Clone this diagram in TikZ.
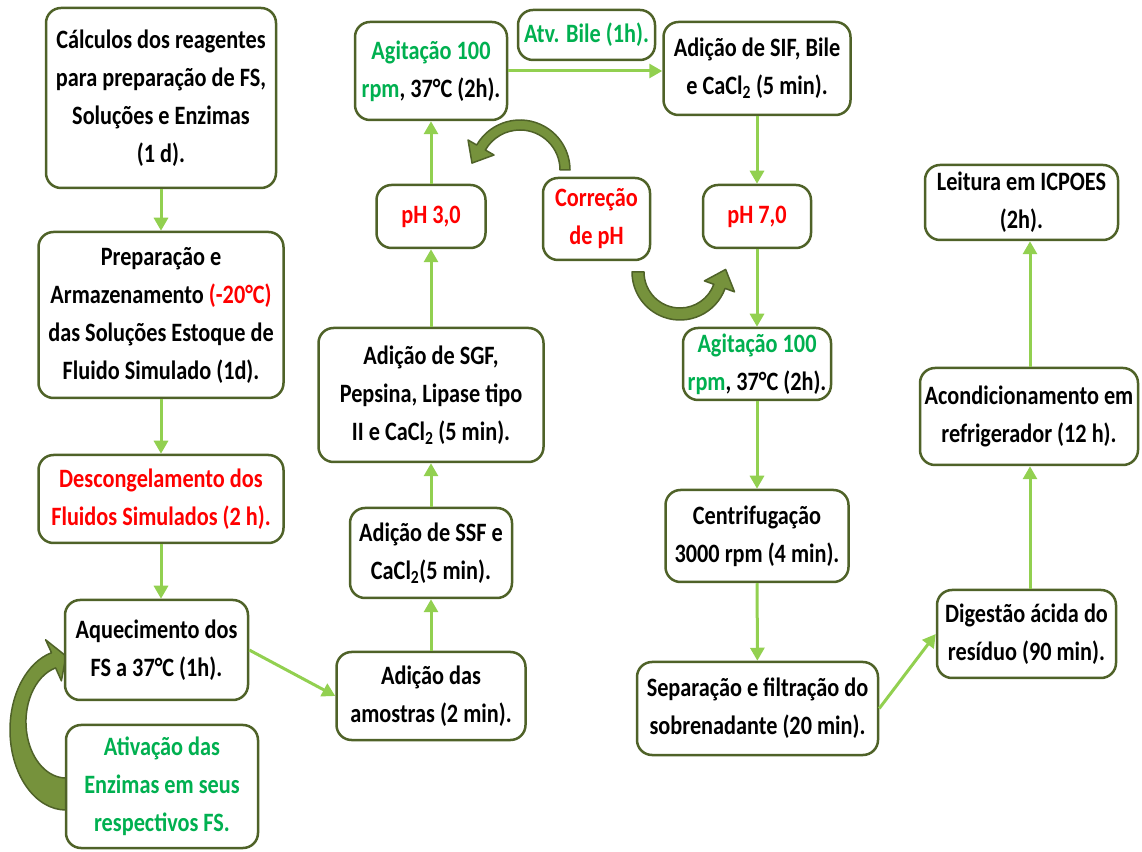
\documentclass[tikz,border=0pt]{standalone}
\usepackage{fontspec}
\setmainfont{Carlito}[FakeStretch=0.84]
\usetikzlibrary{arrows.meta}
\definecolor{boxline}{HTML}{4F6228}
\definecolor{flowgreen}{HTML}{92D050}
\definecolor{textgreen}{HTML}{00B050}
\definecolor{textred}{HTML}{FF0000}
\definecolor{bendfill}{HTML}{76923C}
\tikzset{
  box/.style={draw=boxline, line width=2.5pt, rounded corners=15pt, fill=white,
    align=center, inner sep=1pt, font=\fontsize{26.5}{38}\selectfont\bfseries},
  flow/.style={draw=flowgreen, line width=3pt, -{Triangle[width=14pt,length=13pt]}},
  blockarrow/.style={fill=bendfill, draw=boxline, line width=1.5pt, line join=round}
}
\newcommand{\grn}[1]{\textcolor{textgreen}{#1}}
\newcommand{\rd}[1]{\textcolor{textred}{#1}}

\begin{document}
\begin{tikzpicture}[x=1pt,y=1pt]
\useasboundingbox (0,0) rectangle (1142,851);
% curved block arrows
\draw[blockarrow] (66,41) arc[start angle=270,end angle=105,x radius=56,y radius=80]
  -- (45.6,211.2) -- (66,195) -- (61.4,170.2) -- (55.6,183.1)
  arc[start angle=105,end angle=270,x radius=40,y radius=56] -- cycle;
\begin{scope}[shift={(520,681)}]
  \draw[blockarrow] (0:40) arc[start angle=0,end angle=150,radius=40] -- (150:30)
    -- (171.8:48.5) -- (150:60) -- (150:50) arc[start angle=150,end angle=0,radius=50] -- cycle;
\end{scope}
\begin{scope}[shift={(680,579)}]
  \draw[blockarrow] (180:36) arc[start angle=180,end angle=340,radius=36] -- (340:26)
    -- (3.2:45.7) -- (340:58) -- (340:48) arc[start angle=340,end angle=180,radius=48] -- cycle;
\end{scope}

% left column
\node[box, minimum width=230, minimum height=180] (calc) at (161,753)
  {Cálculos dos reagentes\\para preparação de FS,\\Soluções e Enzimas\\(1 d).};
\node[box, minimum width=245, minimum height=166] (prep) at (161,536)
  {Preparação e\\Armazenamento \rd{(-20°C)}\\das Soluções Estoque de\\Fluido Simulado (1d).};
\node[box, minimum width=245, minimum height=88, text=textred] (desc) at (161,352)
  {Descongelamento dos\\Fluidos Simulados (2 h).};
\node[box, minimum width=183, minimum height=100] (aquec) at (156.5,201)
  {Aquecimento dos\\FS a 37°C (1h).};
\node[box, minimum width=192, minimum height=123, text=textgreen] (ativ) at (162,64.5)
  {Ativação das\\Enzimas em seus\\respectivos FS.};

% middle column
\node[box, minimum width=189, minimum height=88] (amostras) at (431,155)
  {Adição das\\amostras (2 min).};
\node[box, minimum width=162, minimum height=90] (ssf) at (431,298)
  {Adição de SSF e\\CaCl\textsubscript{2}(5 min).};
\node[box, minimum width=225, minimum height=134] (sgf) at (431,456)
  {Adição de SGF,\\Pepsina, Lipase tipo\\II e CaCl\textsubscript{2} (5 min).};
\node[box, minimum width=109, minimum height=63, text=textred] (ph3) at (431,634.5)
  {pH 3,0};
\node[box, minimum width=152, minimum height=98] (agit1) at (431,780)
  {\grn{Agitação 100}\\\grn{rpm}, 37°C (2h).};
\node[box, minimum width=137, minimum height=50, text=textgreen] (bile) at (586.5,816)
  {Atv. Bile (1h).};
\node[box, minimum width=107, minimum height=82, text=textred] (corr) at (596.5,632)
  {Correção\\de pH};

% right column
\node[box, minimum width=187, minimum height=93] (sif) at (757,782.5)
  {Adição de SIF, Bile\\e CaCl\textsubscript{2} (5 min).};
\node[box, minimum width=108, minimum height=63, text=textred] (ph7) at (757,634.5)
  {pH 7,0};
\node[box, minimum width=148, minimum height=72] (agit2) at (757,487)
  {\grn{Agitação 100}\\\grn{rpm}, 37°C (2h).};
\node[box, minimum width=183, minimum height=92] (centr) at (757,315)
  {Centrifugação\\3000 rpm (4 min).};
\node[box, minimum width=241, minimum height=93] (sep) at (757.5,142.5)
  {Separação e filtração do\\sobrenadante (20 min).};
\node[box, minimum width=179, minimum height=88] (dig) at (1026.5,217)
  {Digestão ácida do\\resíduo (90 min).};
\node[box, minimum width=218, minimum height=97] (acond) at (1029,434.5)
  {Acondicionamento em\\refrigerador (12 h).};
\node[box, minimum width=193, minimum height=75] (leit) at (1021.5,648.5)
  {Leitura em ICPOES\\(2h).};

% connectors
\draw[flow] (calc) -- (prep);
\draw[flow] (prep) -- (desc);
\draw[flow] (desc) -- (aquec.north -| desc);
\draw[flow] (aquec.east) -- (amostras.west);
\draw[flow] (amostras) -- (ssf);
\draw[flow] (ssf) -- (sgf);
\draw[flow] (sgf) -- (ph3);
\draw[flow] (ph3) -- (agit1);
\draw[flow] (agit1.east) -- (sif.west |- agit1.east);
\draw[flow] (sif) -- (ph7);
\draw[flow] (ph7) -- (agit2);
\draw[flow] (agit2) -- (centr);
\draw[flow] (centr) -- (sep);
\draw[flow] (sep.east) -- (dig.west);
\draw[flow] (1030,0 |- dig.north) -- (1030,0 |- acond.south);
\draw[flow] (1030,0 |- acond.north) -- (1030,0 |- leit.south);
\end{tikzpicture}
\end{document}
